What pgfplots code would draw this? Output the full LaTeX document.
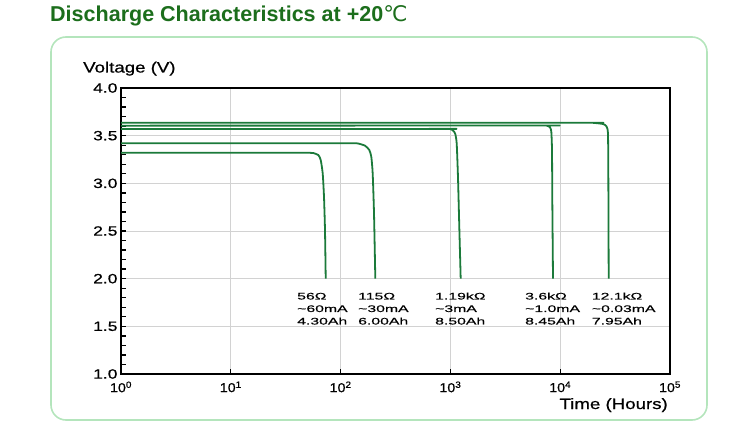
\documentclass[border=0pt]{standalone}
\usepackage{fontspec}
\usepackage{pgfplots}
\pgfplotsset{compat=1.18}
\setmainfont{Liberation Sans}
\newfontfamily\axfont{Liberation Sans}[FakeStretch=1.25, FakeBold=0.6]
\newfontfamily\yfont{Liberation Sans}[FakeStretch=1.3, FakeBold=0.7]
\newfontfamily\xfont{Liberation Sans}[FakeStretch=1.1, FakeBold=0.6]
\newfontfamily\lblfont{Liberation Sans}[FakeStretch=1.65, FakeBold=0.3]
\newfontfamily\degfont{DejaVu Sans}

\definecolor{curve}{HTML}{1B7A3A}
\definecolor{titlegreen}{HTML}{1C6E1C}
\definecolor{framegreen}{HTML}{B4E5BC}
\definecolor{gridgray}{HTML}{D2D2D2}

\begin{document}
\begin{tikzpicture}
\useasboundingbox (0,0) rectangle (740bp,426bp);

% frame and title
\draw[framegreen, line width=1.6bp, rounded corners=15bp] (51bp,6bp) rectangle (707bp,389bp);
\node[anchor=base west, inner sep=0, text=titlegreen,
      font=\fontsize{21.6}{24}\selectfont\bfseries]
  at (50bp,404bp) {Discharge Characteristics at +20{\degfont\mdseries ℃}};

\begin{axis}[
    at={(121bp,52bp)}, anchor=south west,
    scale only axis, width=549bp, height=286bp,
    xmode=log, log basis x=10,
    xmin=1, xmax=1e5, ymin=1, ymax=4,
    xtick={1,10,100,1000,10000,100000},
    xticklabels={10\textsuperscript{0},10\textsuperscript{1},10\textsuperscript{2},10\textsuperscript{3},10\textsuperscript{4},10\textsuperscript{5}},
    ytick={1,1.5,...,4},
    minor y tick num=4,
    /pgf/number format/assume math mode=true,
    yticklabel style={font=\yfont\fontsize{13.5}{15}\selectfont,
      /pgf/number format/.cd, fixed, fixed zerofill, precision=1},
    xticklabel style={font=\xfont\fontsize{13}{15}\selectfont, yshift=-4bp},
    xmajorgrids=true, xminorgrids=true, ymajorgrids=true, yminorgrids=false,
    major grid style={gridgray, line width=0.8bp},
    minor grid style={gridgray, line width=0.8bp},
    tick align=inside, tick pos=left,
    major tick length=5bp, minor tick length=5bp,
    tick style={black, line width=1.3bp},
    axis line style={black, line width=2.2bp},
    every axis plot/.append style={curve, line width=1.8bp, line join=round},
]
% 56 ohm
\addplot[smooth, tension=0.35] coordinates {
  (1,3.32) (40,3.321) (52.6,3.320) (56.4,3.318) (62.7,3.297) (65.9,3.245)
  (68.7,3.105) (70.6,2.860) (72.1,2.510) (73.2,2.0)};
% 115 ohm
\addplot[smooth, tension=0.35] coordinates {
  (1,3.42) (100,3.421) (140.2,3.420) (166.8,3.395) (182.5,3.350) (190.4,3.279)
  (196.0,3.105) (201.5,2.686) (207.1,2.0)};
% 1.19 kohm
\addplot[smooth, tension=0.35] coordinates {
  (1,3.57) (800,3.571) (991,3.570) (1062,3.552) (1108,3.517) (1141,3.420)
  (1172,3.070) (1205,2.545) (1241,2.0)};
% 3.6 kohm
\addplot[smooth, tension=0.35] coordinates {
  (1,3.605) (6500,3.606) (7540,3.605) (8075,3.588) (8300,3.542) (8420,3.350)
  (8475,2.825) (8600,2.0)};
% 12.1 kohm
\addplot[smooth, tension=0.35] coordinates {
  (1,3.636) (15000,3.636) (20000,3.634) (24700,3.622) (26500,3.594) (27230,3.525)
  (27420,3.174) (27650,2.0)};
\end{axis}

% axis titles
\node[anchor=base west, inner sep=0, font=\axfont\fontsize{15}{17}\selectfont]
  at (83bp,353.5bp) {Voltage (V)};
\node[anchor=base east, inner sep=0, font=\axfont\fontsize{15}{17}\selectfont]
  at (668bp,17bp) {Time (Hours)};

% curve annotations
\foreach \x/\a/\b/\c in {297/56Ω/{\textasciitilde60mA}/4.30Ah,
                         358/115Ω/{\textasciitilde30mA}/6.00Ah,
                         435/1.19kΩ/{\textasciitilde3mA}/8.50Ah,
                         525/3.6kΩ/{\textasciitilde1.0mA}/8.45Ah,
                         591.7/12.1kΩ/{\textasciitilde0.03mA}/7.95Ah}{
  \node[anchor=base west, inner sep=0, font=\lblfont\fontsize{9.6}{11}\selectfont] at (\x bp,126.5bp) {\a};
  \node[anchor=base west, inner sep=0, font=\lblfont\fontsize{9.6}{11}\selectfont] at (\x bp,114bp) {\b};
  \node[anchor=base west, inner sep=0, font=\lblfont\fontsize{9.6}{11}\selectfont] at (\x bp,101.5bp) {\c};
}
\end{tikzpicture}
\end{document}
